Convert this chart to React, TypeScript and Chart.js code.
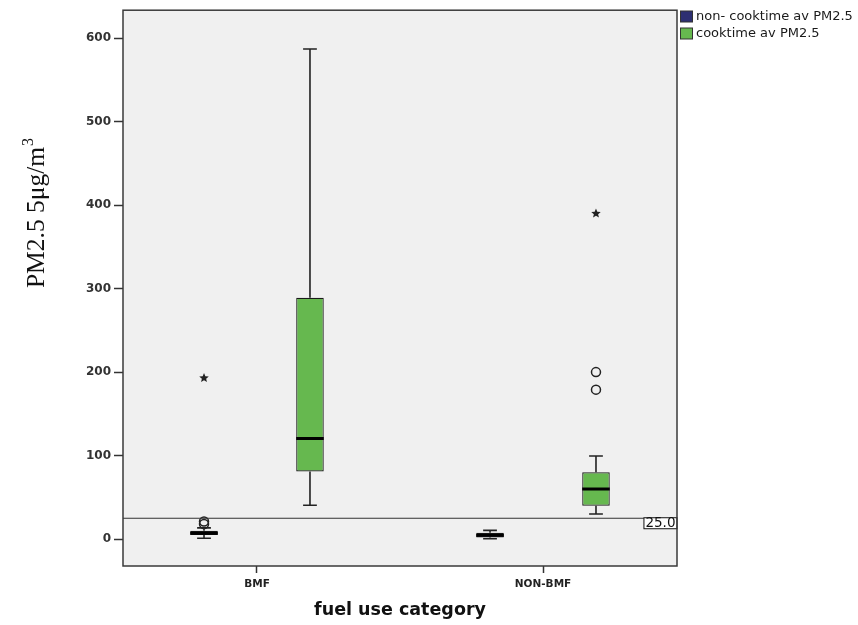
import React, { useEffect, useRef } from 'react';
import { Chart, registerables } from 'chart.js';

Chart.register(...registerables);

// ---- data ----
const categories = ['BMF', 'NON-BMF'];
const seriesNames = ['non- cooktime av PM2.5', 'cooktime av PM2.5'];
const seriesColors = ['#2d2f72', '#66b84f'];

const nonCookMin = [1, 0.5];
const nonCookQ1 = [5, 2];
const nonCookMedian = [7, 4.5];
const nonCookQ3 = [10, 7.5];
const nonCookMax = [13.5, 10.5];
const nonCookOutliers = [[18, 21], []];
const nonCookExtremes = [[193], []];

const cookMin = [40.5, 30];
const cookQ1 = [81, 40];
const cookMedian = [120.5, 60];
const cookQ3 = [289, 80];
const cookMax = [587, 99.5];
const cookOutliers = [[], [179, 200]];
const cookExtremes = [[], [390]];

const referenceValue = 25;
const referenceLabel = '25.0';
const yTicks = [0, 100, 200, 300, 400, 500, 600];
const yTitle = 'PM2.5 5μg/m';
const yTitleSup = '3';
const xTitle = 'fuel use category';

const stats = [
  { min: nonCookMin, q1: nonCookQ1, med: nonCookMedian, q3: nonCookQ3, max: nonCookMax, out: nonCookOutliers, ext: nonCookExtremes },
  { min: cookMin, q1: cookQ1, med: cookMedian, q3: cookQ3, max: cookMax, out: cookOutliers, ext: cookExtremes },
];

const SANS = '"DejaVu Sans", sans-serif';
const SERIF = '"Liberation Serif", "DejaVu Serif", serif';

function drawStar(ctx: CanvasRenderingContext2D, cx: number, cy: number, r: number) {
  const inner = r * 0.45;
  ctx.beginPath();
  for (let k = 0; k < 10; k++) {
    const rad = k % 2 === 0 ? r : inner;
    const a = -Math.PI / 2 + (k * Math.PI) / 5;
    const px = cx + rad * Math.cos(a);
    const py = cy + rad * Math.sin(a);
    if (k === 0) ctx.moveTo(px, py);
    else ctx.lineTo(px, py);
  }
  ctx.closePath();
  ctx.fill();
}

const boxPlugin = {
  id: 'boxExtras',
  beforeDraw(chart: any) {
    const { ctx, chartArea: a } = chart;
    ctx.save();
    ctx.fillStyle = '#f0f0f0';
    ctx.fillRect(a.left, a.top, a.right - a.left, a.bottom - a.top);
    ctx.restore();
  },
  afterDatasetsDraw(chart: any) {
    const { ctx, chartArea: a } = chart;
    const ys = chart.scales.y;
    ctx.save();
    stats.forEach((s, d) => {
      const meta = chart.getDatasetMeta(d);
      meta.data.forEach((bar: any, i: number) => {
        const { x, width } = bar.getProps(['x', 'width'], true);
        const half = width / 2;
        const cap = width / 4;
        const yMin = ys.getPixelForValue(s.min[i]);
        const yQ1 = ys.getPixelForValue(s.q1[i]);
        const yMed = ys.getPixelForValue(s.med[i]);
        const yQ3 = ys.getPixelForValue(s.q3[i]);
        const yMax = ys.getPixelForValue(s.max[i]);
        ctx.strokeStyle = '#222';
        ctx.lineWidth = 1.6;
        ctx.beginPath();
        ctx.moveTo(x, yQ3);
        ctx.lineTo(x, yMax);
        ctx.moveTo(x - cap, yMax);
        ctx.lineTo(x + cap, yMax);
        ctx.moveTo(x, yQ1);
        ctx.lineTo(x, yMin);
        ctx.moveTo(x - cap, yMin);
        ctx.lineTo(x + cap, yMin);
        ctx.stroke();
        // median
        ctx.strokeStyle = '#000';
        ctx.lineWidth = 3;
        ctx.beginPath();
        ctx.moveTo(x - half, yMed);
        ctx.lineTo(x + half, yMed);
        ctx.stroke();
        // outliers
        ctx.strokeStyle = '#222';
        ctx.lineWidth = 1.5;
        s.out[i].forEach((v: number) => {
          ctx.beginPath();
          ctx.arc(x, ys.getPixelForValue(v), 4.5, 0, Math.PI * 2);
          ctx.stroke();
        });
        ctx.fillStyle = '#222';
        s.ext[i].forEach((v: number) => {
          drawStar(ctx, x, ys.getPixelForValue(v), 5);
        });
      });
    });

    // reference line + label
    const yr = ys.getPixelForValue(referenceValue);
    ctx.font = `13.5px ${SANS}`;
    const lw = ctx.measureText(referenceLabel).width + 3;
    const bx = a.right - lw;
    ctx.strokeStyle = '#333';
    ctx.lineWidth = 1.2;
    ctx.beginPath();
    ctx.moveTo(a.left, yr);
    ctx.lineTo(bx, yr);
    ctx.stroke();
    ctx.fillStyle = '#fff';
    ctx.fillRect(bx, yr - 0.5, lw, 11);
    ctx.strokeStyle = '#111';
    ctx.lineWidth = 1;
    ctx.strokeRect(bx, yr - 0.5, lw, 11);
    ctx.fillStyle = '#111';
    ctx.textAlign = 'center';
    ctx.textBaseline = 'middle';
    ctx.fillText(referenceLabel, bx + lw / 2, yr + 5.5);

    // frame
    ctx.strokeStyle = '#3a3a3a';
    ctx.lineWidth = 1.5;
    ctx.strokeRect(a.left, a.top, a.right - a.left, a.bottom - a.top);
    ctx.restore();
  },
  afterDraw(chart: any) {
    const { ctx, chartArea: a } = chart;
    ctx.save();
    // legend
    seriesNames.forEach((name, d) => {
      const top = 11 + d * 17;
      ctx.fillStyle = seriesColors[d];
      ctx.fillRect(a.right + 3.5, top, 12, 11);
      ctx.strokeStyle = '#333';
      ctx.lineWidth = 1;
      ctx.strokeRect(a.right + 3.5, top, 12, 11);
      ctx.fillStyle = '#1a1a1a';
      ctx.font = `13px ${SANS}`;
      ctx.textAlign = 'left';
      ctx.textBaseline = 'middle';
      ctx.fillText(name, a.right + 19, top + 5.5);
    });
    // y title
    ctx.translate(44, 213);
    ctx.rotate(-Math.PI / 2);
    ctx.fillStyle = '#111';
    ctx.textAlign = 'left';
    ctx.textBaseline = 'alphabetic';
    ctx.font = `25.5px ${SERIF}`;
    const w1 = ctx.measureText(yTitle).width;
    ctx.font = `16px ${SERIF}`;
    const w2 = ctx.measureText(yTitleSup).width;
    const total = w1 + w2 + 1;
    ctx.font = `25.5px ${SERIF}`;
    ctx.fillText(yTitle, -total / 2, 0);
    ctx.font = `16px ${SERIF}`;
    ctx.fillText(yTitleSup, -total / 2 + w1 + 1, -11);
    ctx.restore();
  },
};

export default function App() {
  const ref = useRef<HTMLCanvasElement | null>(null);
  useEffect(() => {
    if (!ref.current) return;
    const chart = new Chart(ref.current, {
      type: 'bar',
      data: {
        datasets: stats.map((s, d) => ({
          label: seriesNames[d],
          data: categories.map((_, i) => ({ x: i, y: [s.q1[i], s.q3[i]] })),
          backgroundColor: seriesColors[d],
          borderColor: '#1a1a1a',
          borderWidth: 1.2,
          borderSkipped: false,
          categoryPercentage: 0.741,
          barPercentage: 0.26,
        })),
      },
      options: {
        responsive: false,
        animation: false,
        devicePixelRatio: 1,
        layout: { padding: { left: 0, right: 181, top: 8, bottom: 0 } },
        plugins: { legend: { display: false }, tooltip: { enabled: false } },
        scales: {
          x: {
            type: 'linear',
            offset: false,
            min: -0.4685,
            max: 1.4685,
            afterBuildTicks: (s: any) => {
              s.ticks = categories.map((_, i) => ({ value: i }));
            },
            ticks: {
              callback: (v: any) => categories[v as number] ?? '',
              font: { family: 'DejaVu Sans', size: 10.5, weight: 'bold' },
              color: '#222',
              padding: 5,
              maxRotation: 0,
              autoSkip: false,
            },
            grid: { offset: false, drawOnChartArea: false, drawTicks: true, tickLength: 7, tickColor: '#333', tickWidth: 1.5 },
            border: { display: false },
            title: {
              display: true,
              text: xTitle,
              font: { family: 'DejaVu Sans', size: 17.5, weight: 'bold' },
              color: '#111',
              padding: { top: 0, bottom: 4.5 },
            },
            afterFit: (s: any) => {
              s.height = 59;
            },
          },
          y: {
            type: 'linear',
            min: -32.2,
            max: 633.4,
            afterBuildTicks: (s: any) => {
              s.ticks = yTicks.map((v) => ({ value: v }));
            },
            ticks: {
              callback: (v: any) => String(v),
              font: { family: 'DejaVu Sans', size: 12, weight: 'bold' },
              color: '#333',
              padding: 3,
            },
            grid: { drawOnChartArea: false, drawTicks: true, tickLength: 9, tickColor: '#333', tickWidth: 1.5 },
            border: { display: false },
            afterFit: (s: any) => {
              s.width = 123;
            },
          },
        },
      } as any,
      plugins: [boxPlugin],
    });
    return () => chart.destroy();
  }, []);
  return (
    <div style={{ position: 'absolute', left: 0, top: 0, width: 858, height: 625, background: '#fff' }}>
      <canvas ref={ref} width={858} height={625} style={{ display: 'block' }} />
    </div>
  );
}
